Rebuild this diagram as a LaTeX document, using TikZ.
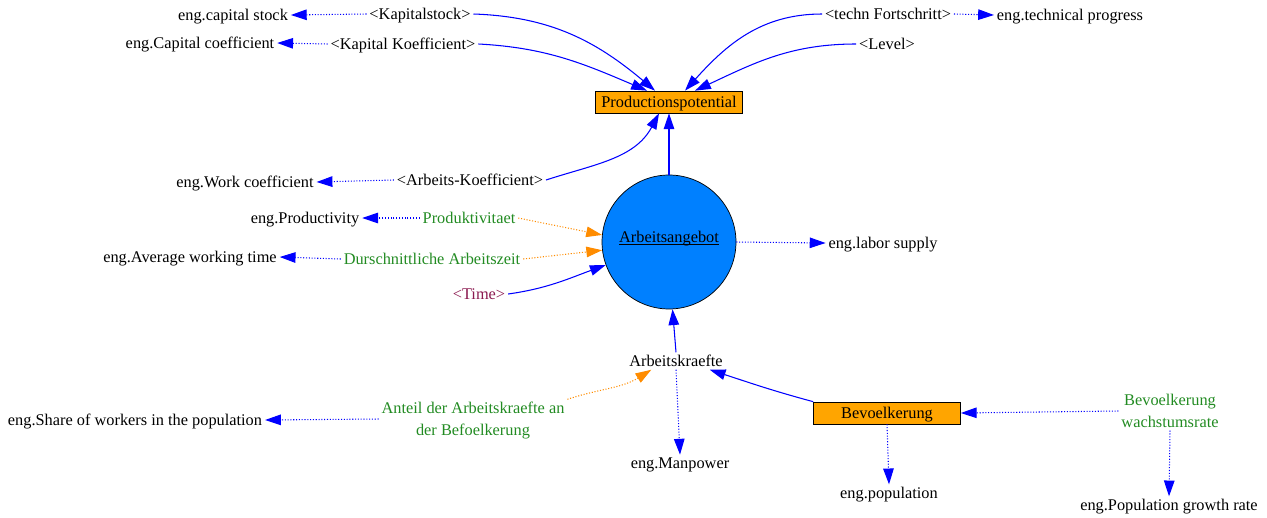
\documentclass[tikz,border=0pt]{standalone}
\usepackage{fontspec}
\setmainfont{Liberation Serif}
\usetikzlibrary{arrows.meta}
\usetikzlibrary{shapes.geometric}
\usetikzlibrary{positioning}
\definecolor{linkblue}{RGB}{0,0,255}
\definecolor{stockorange}{RGB}{255,165,0}
\definecolor{flowblue}{RGB}{0,128,255}
\definecolor{auxgreen}{RGB}{34,139,34}
\definecolor{infoorange}{RGB}{255,140,0}
\definecolor{shadowred}{RGB}{139,26,80}
\tikzset{
	var/.style={inner sep=1.5pt, align=center, text depth=0pt, font=\fontsize{9.3}{12.5}\selectfont},
	auxvar/.style={var, text=auxgreen},
	shadowvar/.style={var, text=shadowred},
	stock/.style={var, draw=black, fill=stockorange, minimum width=2.94cm, minimum height=0.44cm},
	flowvar/.style={var, circle, draw=black, fill=flowblue, minimum size=2.68cm, inner sep=0pt},
	causal/.style={draw=linkblue, line width=0.6pt, -{Triangle[length=9pt,width=6pt]}},
	info/.style={draw=linkblue, line width=0.6pt, densely dotted, -{Triangle[length=9pt,width=6pt]}},
	infoaux/.style={draw=infoorange, line width=0.6pt, densely dotted, -{Triangle[length=9pt,width=6pt]}},
}

\begin{document}
\begin{tikzpicture}[x=0.02cm, y=-0.02cm]
		\useasboundingbox (0,0) rectangle (1267,517);
		% Stocks and flow
		\node [stock] (prod) at (669,102) {Productionspotential};
		\node [flowvar] (ang) at (669,242) {\underline{\smash{Arbeitsangebot}}};
		\node [stock] (bev) at (887,413) {Bevoelkerung};
		% Shadow variables
		\node [var] (kst) at (420,14) {<Kapitalstock>};
		\node [var] (kko) at (403,44) {<Kapital Koefficient>};
		\node [var] (tfs) at (888,14) {<techn Fortschritt>};
		\node [var] (lvl) at (887,44) {<Level>};
		\node [var] (ako) at (470,180) {<Arbeits-Koefficient>};
		\node [shadowvar] (time) at (479,294) {<Time>};
		% Auxiliaries
		\node [auxvar] (prk) at (469,218) {Produktivitaet};
		\node [auxvar] (daz) at (432,259) {Durschnittliche Arbeitszeit};
		\node [var] (akr) at (676,361) {Arbeitskraefte};
		\node [auxvar] (ant) at (473,419) {Anteil der Arbeitskraefte an\\der Befoelkerung};
		\node [auxvar] (bwr) at (1170,411) {Bevoelkerung\\wachstumsrate};
		% English names
		\node [var] (ecs) at (233,15) {eng.capital stock};
		\node [var] (ecc) at (200,43) {eng.Capital coefficient};
		\node [var] (etp) at (1070,15) {eng.technical progress};
		\node [var] (ewc) at (245,182) {eng.Work coefficient};
		\node [var] (epr) at (305,218) {eng.Productivity};
		\node [var] (eaw) at (190,257) {eng.Average working time};
		\node [var] (els) at (883,243) {eng.labor supply};
		\node [var] (esw) at (135,420) {eng.Share of workers in the population};
		\node [var] (emp) at (680,463) {eng.Manpower};
		\node [var] (epo) at (889,493) {eng.population};
		\node [var] (epg) at (1169,505) {eng.Population growth rate};
		% Links into Productionspotential
		\draw [causal] (kst.east) to[out=-2,in=140] ([xshift=-0.28cm]prod.north);
		\draw [causal] (kko.east) to[out=-3,in=157] ([xshift=-0.44cm]prod.north);
		\draw [causal] (tfs.west) to[out=180,in=48] ([xshift=0.32cm]prod.north);
		\draw [causal] (lvl.west) to[out=180,in=25] ([xshift=0.52cm]prod.north);
		\draw [causal] (ako.east) to[out=18,in=-118] ([xshift=-0.2cm]prod.south);
		\draw [causal] (ang.north) -- (prod.south);
		% Links into Arbeitsangebot
		\draw [infoaux] (prk.east) -- (ang.174);
		\draw [infoaux] (daz.east) -- (ang.187);
		\draw [causal] (time.east) to[out=8,in=200] (ang);
		\draw [causal] (akr.north) -- (ang.273);
		% Labour force and population
		\draw [infoaux] (ant.north east) to[out=18,in=-148] ([xshift=0.5cm]akr.south west);
		\draw [causal] (bev.north west) to[out=165,in=-18] ([xshift=-0.32cm]akr.south east);
		\draw [info] (bwr.west) -- (bev.east);
		% English translations
		\draw [info] (kst.west) -- (ecs.east);
		\draw [info] (kko.west) -- (ecc.east);
		\draw [info] (tfs.east) -- (etp.west);
		\draw [info] (ako.west) -- (ewc.east);
		\draw [info] (prk.west) -- (epr.east);
		\draw [info] (daz.west) -- (eaw.east);
		\draw [info] (ang.east) -- (els.west);
		\draw [info] (ant.west) -- (esw.east);
		\draw [info] (akr.south) -- (emp.north);
		\draw [info] (bev.south) -- (epo.north);
		\draw [info] (bwr.south) -- (epg.north);
\end{tikzpicture}
\end{document}
